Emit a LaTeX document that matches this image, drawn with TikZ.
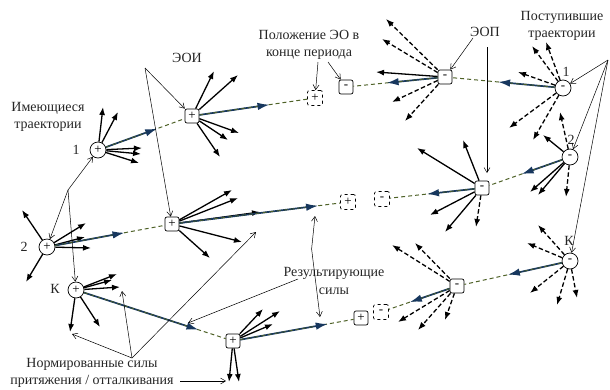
\documentclass[tikz,border=0pt]{standalone}
\usepackage{fontspec}
\setmainfont{Liberation Serif}
\usetikzlibrary{arrows.meta,calc}
\definecolor{navyc}{RGB}{23,55,94}
\definecolor{olivec}{RGB}{79,98,40}
\newcommand\resarrow[3]{%
  \coordinate (#1-#2-tip) at ($(#1)!#3!(#2)$);
  \draw[traj] (#1) -- (#2);
  \draw[res] (#1) -- (#1-#2-tip);
  \draw[traj,line width=0.7pt] (#1) -- ($(#1-#2-tip)!12pt!(#1)$);}
\newcommand\forcefan[3]{%
  \foreach \x/\y [count=\i] in {#3} {%
    \coordinate (#1-#2-\i) at (\x,\y);
    \draw[#2] (#1) -- (#1-#2-\i);}}
\begin{document}
\begin{tikzpicture}[x=1pt,y=-1pt,
  circ/.style={circle,draw,fill=white,minimum size=16pt,inner sep=0pt,line width=0.7pt,font=\fontsize{13}{13}\selectfont},
  sq/.style={rectangle,rounded corners=2pt,draw,fill=white,minimum size=14pt,inner sep=0pt,line width=0.7pt,font=\fontsize{13}{13}\selectfont},
  dsq/.style={sq,dashed,minimum size=15pt},
  force/.style={line width=1.3pt,-{Latex[length=8pt,width=6pt]}},
  dforce/.style={force,dash pattern=on 4.5pt off 2.5pt},
  res/.style={navyc,line width=1.7pt,-{Latex[length=12pt,width=7.5pt]}},
  traj/.style={olivec,line width=1pt,dash pattern=on 4pt off 3pt},
  ann/.style={line width=0.5pt,-{Straight Barb[length=5pt,width=6pt]}},
  lbl/.style={font=\fontsize{14}{17.5}\selectfont,align=center,inner sep=0pt,text=black!85}]
\useasboundingbox[fill=white] (0,0) rectangle (610,389);

% ---- nodes, top row
\node[circ] (c1p) at (98,150) {+};
\node[sq]   (eoi) at (192,116) {+};
\node[dsq]  (d1p) at (315,98) {+};
\node[sq]   (s1m) at (346,87) {-};
\node[sq]   (eop) at (445,77) {-};
\node[circ] (c1m) at (563,88) {-};
% ---- middle row
\node[circ] (c2p) at (47,247) {+};
\node[sq]   (s2p) at (172,224) {+};
\node[dsq]  (d2p) at (348,202) {+};
\node[dsq]  (d2m) at (382,199) {-};
\node[sq]   (s2m) at (482,188) {-};
\node[circ] (c2m) at (570,157) {-};
% ---- bottom row
\node[circ] (ckp) at (76,290) {+};
\node[sq]   (s3p) at (233,341) {+};
\node[sq]   (s3q) at (361,318) {+};
\node[dsq]  (d3m) at (381,312) {-};
\node[sq]   (s3m) at (457,286) {-};
\node[circ] (ckm) at (570,261) {-};

% ---- force fans
\forcefan{c1p}{force}{103/107,118/112,142/148,141/154,139/163}
\forcefan{eoi}{force}{214/71,238/75,239/133,228/140,220/157}
\forcefan{eop}{force}{376/72}
\forcefan{eop}{dforce}{386/19,382/39,392/102,405/121}
\forcefan{c1m}{dforce}{532/46,546/42,518/72,509/128,533/140}
\forcefan{c2p}{force}{22/210,26/282,86/223,85/237,91/248}
\forcefan{s2p}{force}{232/190,238/198,260/212,242/242,210/258}
\forcefan{s2m}{force}{417/148,463/140,430/215,445/232}
\forcefan{s2m}{dforce}{476/227}
\forcefan{c2m}{force}{543/135,530/192,538/195}
\forcefan{c2m}{dforce}{560/112,566/197}
\forcefan{ckp}{force}{117/274,112/280,120/287,70/332,100/327}
\forcefan{s3p}{force}{263/309,280/311,273/324,229/382,239/382}
\forcefan{s3m}{dforce}{392/245,415/243,398/322,418/330,445/320}
\forcefan{ckm}{dforce}{538/225,527/243,530/293,557/305,577/298}

% ---- resulting trajectories
\resarrow{c1p}{eoi}{0.63}
\resarrow{eoi}{d1p}{0.63}
\resarrow{c1m}{eop}{0.55}
\resarrow{eop}{s1m}{0.59}
\resarrow{c2p}{s2p}{0.62}
\resarrow{s2p}{d2p}{0.83}
\resarrow{c2m}{s2m}{0.55}
\resarrow{s2m}{d2m}{0.55}
\resarrow{ckp}{s3p}{0.78}
\resarrow{s3p}{s3q}{0.74}
\resarrow{ckm}{s3m}{0.55}
\resarrow{s3m}{d3m}{0.62}

% ---- labels
\node[lbl] (lhave) at (48,117) {Имеющиеся\\траектории};
\node[lbl] (n1l) at (76,150) {1};
\node[lbl] (n2l) at (24,247) {2};
\node[lbl] (nkl) at (55,289) {К};
\node[lbl] (leoi) at (187,58) {ЭОИ};
\node[lbl] (lpos) at (309,45) {Положение ЭО в\\конце периода};
\node[lbl] (leop) at (485,32) {ЭОП};
\node[lbl] (lin) at (562,26) {Поступившие\\траектории};
\node[lbl] (m1l) at (566,72) {1};
\node[lbl] (m2l) at (571,140) {2};
\node[lbl] (mkl) at (569,241) {К};
\node[lbl] (lres) at (334,281) {Результирующие\\силы};
\node[lbl] (lnorm) at (92,373) {Нормированные силы\\притяжения / отталкивания};

% ---- annotation lines
\coordinate (a1) at (68,190);
\draw[ann] (a1) -- (c1p);
\draw[ann] (a1) -- (c2p);
\draw[ann] (a1) -- (ckp);
\coordinate (a2) at (145,68);
\draw[ann] (a2) -- (eoi);
\draw[ann] (a2) -- (s2p);
\coordinate (a3) at (318,62);
\draw[ann] (a3) -- (d1p);
\coordinate (a4) at (328,62);
\draw[ann] (a4) -- (s1m);
\coordinate (a5) at (473,38);
\draw[ann] (a5) -- (eop);
\coordinate (a6) at (487,47);
\coordinate (e6) at (487,173);
\draw[ann] (a6) -- (e6);
\coordinate (a7) at (608,60);
\draw[ann] (a7) -- (c1m);
\draw[ann] (a7) -- (c2m);
\draw[ann] (a7) -- (ckm);
\coordinate (a8) at (311.6,249);
\coordinate (e8a) at (315,216);
\coordinate (e8b) at (320,317);
\draw[ann] (a8) -- (e8a);
\draw[ann] (a8) -- (e8b);
\coordinate (a9) at (298,279);
\coordinate (e9) at (188,323);
\draw[ann] (a9) -- (e9);
\coordinate (a10) at (132,358);
\coordinate (e10a) at (72,334);
\coordinate (e10b) at (122,291);
\coordinate (e10c) at (256,232);
\draw[ann] (a10) -- (e10a);
\draw[ann] (a10) -- (e10b);
\draw[ann] (a10) -- (e10c);
\coordinate (a11) at (180,381);
\coordinate (e11) at (226,381);
\draw[ann] (a11) -- (e11);
\end{tikzpicture}
\end{document}
